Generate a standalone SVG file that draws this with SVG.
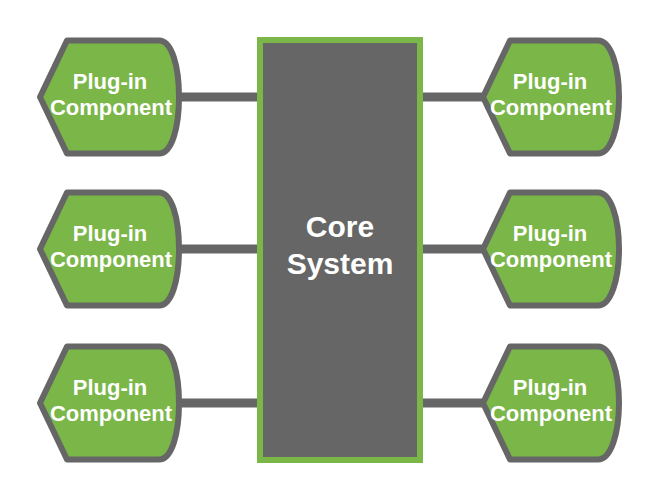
<svg xmlns="http://www.w3.org/2000/svg" width="660" height="500" viewBox="0 0 660 500">
<style>
.plug{fill:#7ab648;stroke:#666666;stroke-width:6;stroke-linejoin:round}
.lbl{font-family:"Liberation Sans",Arial,sans-serif;font-weight:bold;fill:#ffffff;text-anchor:middle}
.pl{font-size:22px}
.core{fill:#666666;stroke:#7ab648;stroke-width:6}
.conn{stroke:#666666;stroke-width:9;fill:none}
</style>
<defs>
<path id="lshape" d="M40,0 L67,-56.5 L159,-56.5 C172,-56.5 179,-30 179,0 C179,30 172,56.5 159,56.5 L67,56.5 Z"/>
<path id="rshape" d="M483,0 L510,-56.5 L598,-56.5 C611,-56.5 619,-30 619,0 C619,30 611,56.5 598,56.5 L510,56.5 Z"/>
</defs>
<g id="connectors">
<line class="conn" x1="179" y1="97" x2="262" y2="97"/>
<line class="conn" x1="179" y1="249" x2="262" y2="249"/>
<line class="conn" x1="179" y1="403" x2="262" y2="403"/>
<line class="conn" x1="418" y1="97" x2="484" y2="97"/>
<line class="conn" x1="418" y1="249" x2="484" y2="249"/>
<line class="conn" x1="418" y1="403" x2="484" y2="403"/>
</g>
<g id="core">
<rect class="core" x="260" y="40" width="160" height="420"/>
<text class="lbl" font-size="30" x="340" y="237">Core</text>
<text class="lbl" font-size="30" x="340" y="274">System</text>
</g>
<g id="plugin-l1" transform="translate(0,97)">
<use href="#lshape" class="plug"/>
<text class="lbl pl" x="110" y="-8">Plug-in</text>
<text class="lbl pl" x="111" y="18">Component</text>
</g>
<g id="plugin-l2" transform="translate(0,249)">
<use href="#lshape" class="plug"/>
<text class="lbl pl" x="110" y="-8">Plug-in</text>
<text class="lbl pl" x="111" y="18">Component</text>
</g>
<g id="plugin-l3" transform="translate(0,403)">
<use href="#lshape" class="plug"/>
<text class="lbl pl" x="110" y="-8">Plug-in</text>
<text class="lbl pl" x="111" y="18">Component</text>
</g>
<g id="plugin-r1" transform="translate(0,97)">
<use href="#rshape" class="plug"/>
<text class="lbl pl" x="550" y="-8">Plug-in</text>
<text class="lbl pl" x="551" y="18">Component</text>
</g>
<g id="plugin-r2" transform="translate(0,249)">
<use href="#rshape" class="plug"/>
<text class="lbl pl" x="550" y="-8">Plug-in</text>
<text class="lbl pl" x="551" y="18">Component</text>
</g>
<g id="plugin-r3" transform="translate(0,403)">
<use href="#rshape" class="plug"/>
<text class="lbl pl" x="550" y="-8">Plug-in</text>
<text class="lbl pl" x="551" y="18">Component</text>
</g>
</svg>
